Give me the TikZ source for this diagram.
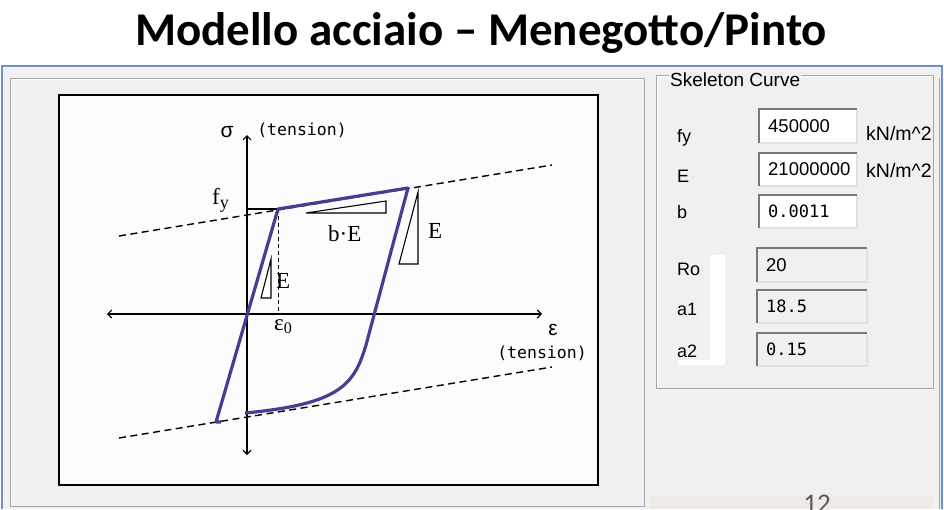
\documentclass[tikz,border=0pt]{standalone}
\usepackage{fontspec}
\setmainfont{Liberation Serif}
\newfontfamily\titlefont{Carlito}
\newfontfamily\guifont{Liberation Sans}
\newfontfamily\plotmono{DejaVu Sans Mono}
\usetikzlibrary{arrows.meta}

\definecolor{winblue}{RGB}{105,145,205}
\definecolor{winback}{RGB}{240,240,240}
\definecolor{etchdark}{RGB}{165,165,165}
\definecolor{fielddark}{RGB}{120,120,120}
\definecolor{fieldlight}{RGB}{225,225,225}
\definecolor{curvepurple}{RGB}{78,58,145}
\definecolor{pagestrip}{RGB}{238,235,229}

\tikzset{
  axis/.style={line width=1.1pt, {Straight Barb[length=4pt,width=8pt]}-{Straight Barb[length=4pt,width=8pt]}},
  skeleton/.style={line width=1.4pt, dash pattern=on 7pt off 4.5pt},
  guide/.style={line width=1pt, dash pattern=on 4pt off 3pt},
  slope/.style={line width=1.1pt, line join=miter},
  curve/.style={line width=3.2pt, curvepurple, line join=round},
  etched/.style={etchdark, line width=1pt},
  serlab/.style={inner sep=0pt, anchor=base west, font=\fontsize{23}{23}\selectfont},
  monolab/.style={inner sep=0pt, anchor=base, font=\plotmono\fontsize{16.5}{16.5}\selectfont},
  greeklab/.style={inner sep=0pt, anchor=base, font=\guifont\fontsize{21}{21}\selectfont},
  guilab/.style={inner sep=0pt, anchor=base west, font=\guifont\fontsize{18}{18}\selectfont},
}

\begin{document}
\begin{tikzpicture}[x=1pt, y=-1pt]
    \useasboundingbox (0,0) rectangle (944,509);
    \clip (0,0) rectangle (944,509);

    % titolo
    \node[inner sep=0pt, anchor=base, font=\titlefont\bfseries\fontsize{47}{47}\selectfont] (titolo) at (481,45) {Modello acciaio – Menegotto/Pinto};

    % finestra del programma
    \fill[winback] (2,66) rectangle (942,509);
    \draw[winblue, line width=2.5pt] (2,509) -- (2,66) -- (942,66) -- (942,509);
    \draw[etched] (939,78) -- (939,509);

    % riquadro sinistro e area del grafico
    \draw[etched] (10,506) -- (10,78) -- (644,78) -- (644,506) -- cycle;
    \draw[white, line width=0.8pt] (11.5,504.5) -- (11.5,79.5) -- (642.5,79.5);
    \draw[line width=1.4pt, fill={rgb,255:red,252;green,252;blue,252}] (59,95) rectangle (598,485);

    % punti principali
    \coordinate (O) at (247,314);
    \coordinate (Y) at (278,209);
    \coordinate (T) at (408,188);
    \coordinate (BL) at (216,422);
    \coordinate (LB) at (245,413);
    \coordinate (E0) at (278,314);
    \coordinate (FY) at (247,209);

    % assi
    \draw[axis] (107,314) -- (542,314);
    \draw[axis] (247,455) -- (247,135);

    % rette di inviluppo (b E)
    \draw[skeleton] (119,236) -- (552,165);
    \draw[skeleton] (119,438) -- (552,367);

    % f_y ed epsilon_0
    \draw[line width=1.1pt] (FY) -- (Y);
    \draw[guide] (Y) -- (E0);

    % triangoli delle pendenze
    \draw[slope] (261,298) -- (271,298) -- (271,259) -- cycle;
    \draw[slope] (306,213) -- (386,213) -- (386,201) -- cycle;
    \draw[slope] (399,264) -- (418,264) -- (418,192) -- cycle;

    % curva Menegotto/Pinto
    \draw[curve] (LB) .. controls (340,404) and (354,385) .. (366,345) -- (T) -- (Y) -- (BL) -- ++(5,0);

    % etichette del grafico
    \node[greeklab] (sigma) at (227,137) {σ};
    \node[monolab] (tensup) at (302,135) {(tension)};
    \node[greeklab] (eps) at (553,335) {ε};
    \node[monolab] (tensdx) at (542,358) {(tension)};
    \node[serlab] (fy) at (212,204) {f\raisebox{-4pt}{\fontsize{18}{18}\selectfont y}};
    \node[serlab] (eps0) at (274,330) {ε\raisebox{-3pt}{\fontsize{16}{16}\selectfont 0}};
    \node[serlab] (Esx) at (276,288) {E};
    \node[serlab] (bE) at (328,241) {b·E};
    \node[serlab] (Edx) at (428,238) {E};

    % riquadro Skeleton Curve
    \draw[etched] (656,388) -- (656,75) -- (933,75) -- (933,388) -- cycle;
    \draw[white, line width=0.8pt] (657.5,386.5) -- (657.5,76.5) -- (931.5,76.5);
    \node[guilab, fill=winback, inner xsep=1pt, font=\guifont\fontsize{19}{19}\selectfont] (skel) at (669,86) {Skeleton Curve};
    \fill[white] (710,255) rectangle (725,364);
    \fill[white] (678,360) rectangle (725,365);

    % nomi dei parametri
    \node[guilab] (lfy) at (677,142) {fy};
    \node[guilab] (lE) at (677,182) {E};
    \node[guilab] (lb) at (677,218) {b};
    \node[guilab] (lRo) at (677,275) {Ro};
    \node[guilab] (la1) at (677,315) {a1};
    \node[guilab] (la2) at (677,357) {a2};
    \node[guilab, font=\guifont\fontsize{19.5}{19.5}\selectfont] (ufy) at (866,140) {kN/m\^{}2};
    \node[guilab, font=\guifont\fontsize{19.5}{19.5}\selectfont] (uE) at (866,177) {kN/m\^{}2};

    % caselle dei valori
    \foreach \nm/\xa/\xb/\ya/\yb/\bg/\fnt/\fs/\val in {
        vfy/759/857/109/143/white/\guifont/18.5/450000,
        vE/759/857/153/186/white/\guifont/18.5/21000000,
        vb/759/857/195/228/white/\plotmono/17/0.0011,
        vRo/757/867/248/282/winback/\guifont/18.5/20,
        va1/757/867/290/323/winback/\plotmono/17/18.5,
        va2/757/867/333/366/winback/\plotmono/17/0.15} {
        \fill[\bg] (\xa,\ya) rectangle (\xb,\yb);
        \draw[fieldlight, line width=1.5pt] (\xa,\yb) -- (\xb,\yb) -- (\xb,\ya);
        \draw[fielddark, line width=1.5pt] (\xa,\yb) -- (\xa,\ya) -- (\xb,\ya);
        \node[inner sep=0pt, anchor=west, font=\fnt\fontsize{\fs}{\fs}\selectfont] (\nm) at ({\xa+9},{(\ya+\yb)/2}) {\val};
    }

    % numero di pagina
    \fill[pagestrip] (650,497) rectangle (933,509);
    \node[inner sep=0pt, anchor=base, text={rgb,255:red,90;green,90;blue,90}, font=\titlefont\fontsize{27}{27}\selectfont] (pagina) at (817,512) {12};
\end{tikzpicture}
\end{document}
